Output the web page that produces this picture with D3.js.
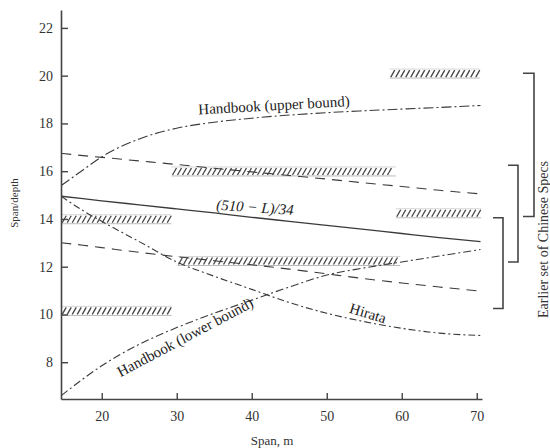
<!DOCTYPE html>
<html>
<head>
<meta charset="utf-8">
<script src="https://cdn.jsdelivr.net/npm/d3@7"></script>
<style>
  html, body { margin: 0; padding: 0; background: #fff; overflow: hidden; }
  svg { display: block; font-family: "Liberation Serif", "DejaVu Serif", serif; }
</style>
</head>
<body>
<svg id="chart" width="550" height="448"></svg>
<script>
var spans = [14.6, 17.5, 20, 25, 30, 35, 40, 45, 50, 55, 60, 65, 70.5];

var upperBound = [15.4, 16.05, 16.6, 17.35, 17.8, 18.05, 18.22, 18.35, 18.45, 18.53, 18.6, 18.67, 18.75];
var dashedHigh = [16.75, 16.65, 16.58, 16.43, 16.28, 16.12, 15.97, 15.82, 15.67, 15.51, 15.36, 15.2, 15.05];
var codeLine   = [14.95, 14.85, 14.76, 14.59, 14.42, 14.25, 14.07, 13.9, 13.73, 13.56, 13.39, 13.22, 13.05];
var hirata     = [14.95, 14.35, 13.9, 13.05, 12.2, 11.6, 11.05, 10.5, 10.05, 9.7, 9.42, 9.22, 9.12];
var dashedLow  = [13.0, 12.9, 12.8, 12.6, 12.42, 12.25, 12.08, 11.9, 11.7, 11.5, 11.32, 11.15, 10.98];
var lowerBound = [6.6, 7.3, 7.85, 8.75, 9.45, 10.05, 10.6, 11.15, 11.65, 11.95, 12.2, 12.45, 12.72];

// hatched bands: span from / to, and span/depth level
var bandFrom  = [58.4, 29.3, 14.6, 59.2, 30.1, 14.6];
var bandTo    = [70.4, 59.2, 29.3, 70.6, 59.8, 29.3];
var bandLevel = [19.9, 15.8, 13.8, 14.05, 12.05, 9.96];

// brackets on the right (span/depth ranges)
var bracketLow  = [14.1, 12.2, 10.25];
var bracketHigh = [20.1, 16.25, 14.05];

var xTicks = [20, 30, 40, 50, 60, 70];
var yTicks = [8, 10, 12, 14, 16, 18, 20, 22];

var svg = d3.select("#chart");

var x = d3.scaleLinear().domain([14.57, 70.7]).range([61, 482]);
var y = d3.scaleLinear().domain([6.46, 22.75]).range([399, 10]);

function series(vals) {
  return spans.map(function(s, i) { return [s, vals[i]]; });
}

var line = d3.line()
  .x(function(d) { return x(d[0]); })
  .y(function(d) { return y(d[1]); })
  .curve(d3.curveMonotoneX);

// hatched bands
var bandH = 9;
bandLevel.forEach(function(lv, i) {
  var x0 = x(bandFrom[i]), x1 = x(bandTo[i]), yb = y(lv), yt = yb - bandH;
  var g = svg.append("g");
  g.append("line").attr("x1", x0).attr("x2", x1).attr("y1", yb).attr("y2", yb)
    .attr("stroke", "#aaa").attr("stroke-width", 0.8);
  g.append("line").attr("x1", x0).attr("x2", x1).attr("y1", yt).attr("y2", yt)
    .attr("stroke", "#ccc").attr("stroke-width", 0.8);
  for (var px = x0 + 1; px + 4 <= x1; px += 5) {
    g.append("line").attr("x1", px).attr("y1", yb - 1).attr("x2", px + 4).attr("y2", yt + 1)
      .attr("stroke", "#444").attr("stroke-width", 1.3);
  }
});

var curves = [
  { vals: upperBound, dash: "10,3,2,3", w: 1.1 },
  { vals: dashedHigh, dash: "10,7", w: 1.1 },
  { vals: codeLine, dash: null, w: 1.3 },
  { vals: hirata, dash: "7,3,2,3", w: 1.1 },
  { vals: dashedLow, dash: "10,7", w: 1.1 },
  { vals: lowerBound, dash: "8,3,2,3", w: 1.1 }
];

curves.forEach(function(c) {
  svg.append("path")
    .attr("d", line(series(c.vals)))
    .attr("fill", "none")
    .attr("stroke", "#3a3a3a")
    .attr("stroke-width", c.w)
    .attr("stroke-dasharray", c.dash);
});

// axes
var yAxis = svg.append("g").attr("transform", "translate(" + x.range()[0] + ",0)")
  .call(d3.axisLeft(y).tickValues(yTicks).tickSize(-7).tickSizeOuter(0).tickPadding(8));
var xAxis = svg.append("g").attr("transform", "translate(0," + y.range()[0] + ")")
  .call(d3.axisBottom(x).tickValues(xTicks).tickSize(-6).tickSizeOuter(0).tickPadding(12));

[yAxis, xAxis].forEach(function(a) {
  a.select(".domain").attr("stroke", "#444").attr("stroke-width", 1.6);
  a.selectAll(".tick line").attr("stroke", "#444").attr("stroke-width", 1.4);
  a.selectAll(".tick text").attr("fill", "#333").attr("font-size", 14)
    .attr("font-family", "Liberation Serif, serif");
});

svg.append("text").text("Span/depth")
  .attr("transform", "translate(18,203) rotate(-90)")
  .attr("text-anchor", "middle").attr("font-size", 11).attr("fill", "#333");

svg.append("text").text("Span, m")
  .attr("x", 272).attr("y", 445)
  .attr("text-anchor", "middle").attr("font-size", 13).attr("fill", "#333");

// curve labels
function label(txt, cx, cy, ang, italic) {
  svg.append("text").text(txt)
    .attr("transform", "translate(" + cx + "," + cy + ") rotate(" + ang + ")")
    .attr("text-anchor", "middle").attr("dy", "0.35em")
    .attr("font-size", 15).attr("fill", "#222")
    .attr("font-style", italic ? "italic" : null);
}
label("Handbook (upper bound)", 274, 105, -3.2);
label("(510 \u2212 L)/34", 255, 207, 4, true);
label("Hirata", 368, 313, 17);
label("Handbook (lower bound)", 185, 337, -28);

// brackets
var bracketX = [534, 518, 503];
var bracketArm = [11, 10, 10];
bracketLow.forEach(function(lo, i) {
  var bx = bracketX[i], a = bracketArm[i];
  svg.append("path")
    .attr("d", "M" + (bx - a) + "," + y(bracketHigh[i]) + "H" + bx + "V" + y(lo) + "H" + (bx - a))
    .attr("fill", "none").attr("stroke", "#444").attr("stroke-width", 1.6);
});

svg.append("text").text("Earlier set of Chinese Specs")
  .attr("transform", "translate(548,318) rotate(-90)")
  .attr("text-anchor", "start").attr("font-size", 14).attr("fill", "#333");
</script>
</body>
</html>
